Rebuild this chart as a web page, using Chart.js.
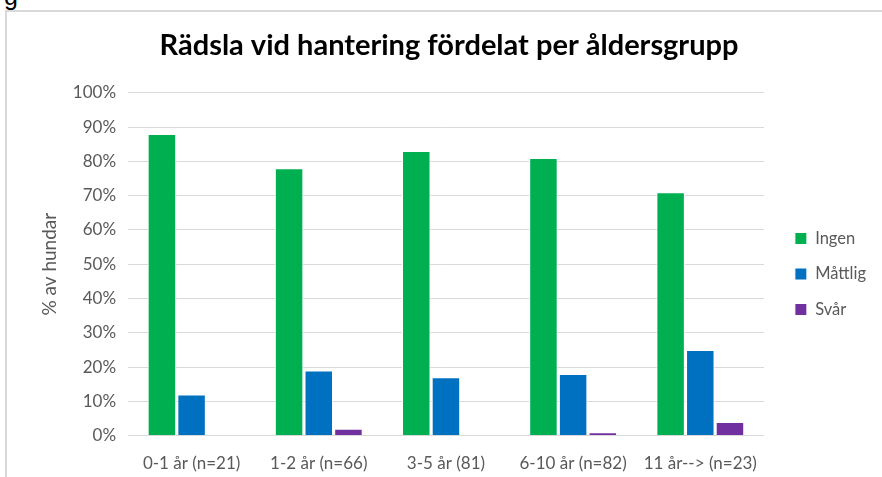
<!DOCTYPE html>
<html>
<head>
<meta charset="utf-8">
<script src="https://cdn.jsdelivr.net/npm/chart.js@4.4.0/dist/chart.umd.min.js"></script>
<style>
  body { margin: 0; background: #fff; overflow: hidden; }
  #frame {
    position: absolute; left: 5px; top: 10px; width: 890px; height: 500px;
    border-left: 2px solid #d9d9d9; border-top: 2px solid #d9d9d9;
  }
  #cut { position: absolute; left: 4px; top: -18px; font: 25px "Liberation Sans", sans-serif; color: #000; }
  #wrap { position: absolute; left: 0; top: 0; width: 875px; height: 482px; }
</style>
</head>
<body>
<div id="cut">g</div>
<div id="frame">
  <div id="wrap"><canvas id="fearChart"></canvas></div>
</div>
<script>
const categories = ["0-1 år (n=21)", "1-2 år (n=66)", "3-5 år (81)", "6-10 år (n=82)", "11 år--> (n=23)"];
const seriesNames = ["Ingen", "Måttlig", "Svår"];
const ingen = [88, 78, 83, 81, 71];
const mattlig = [12, 19, 17, 18, 25];
const svar = [0, 2, 0, 1, 4];
const seriesColors = ["#00b050", "#0070c0", "#7030a0"];
const yTicks = [0, 10, 20, 30, 40, 50, 60, 70, 80, 90, 100];

const fontFamily = "Lato, 'Liberation Sans', sans-serif";
const grey = "#595959";

// push the legend a bit away from the plot, like in the excel original
const legendShift = {
    id: "legendShift",
    afterLayout(chart) {
        const lg = chart.legend;
        if (lg) { lg.left += 12; lg.right += 12; }
    },
};

const ctx = document.getElementById("fearChart").getContext("2d");
new Chart(ctx, {
    type: "bar",
    data: {
        labels: categories,
        datasets: [ingen, mattlig, svar].map((vals, i) => ({
            label: seriesNames[i],
            data: vals,
            backgroundColor: seriesColors[i],
            borderColor: "#ffffff",
            borderWidth: 1,
            categoryPercentage: 0.7,
            barPercentage: 0.96,
        })),
    },
    options: {
        responsive: true,
        maintainAspectRatio: false,
        animation: false,
        layout: { padding: { left: 27, right: 18, top: 4, bottom: 2 } },
        scales: {
            x: {
                grid: { display: false, drawTicks: false },
                border: { display: false },
                ticks: { color: grey, font: { family: fontFamily, size: 17 }, padding: 18, maxRotation: 0 },
            },
            y: {
                min: 0,
                max: 100,
                afterBuildTicks: (axis) => { axis.ticks = yTicks.map(v => ({ value: v })); },
                grid: { color: "#d9d9d9", lineWidth: 1, drawTicks: false },
                border: { display: false },
                ticks: { color: grey, font: { family: fontFamily, size: 17 }, padding: 12, callback: (v) => v + "%" },
                title: { display: true, text: "% av hundar", color: grey, font: { family: fontFamily, size: 19 }, padding: { bottom: 0 } },
            },
        },
        plugins: {
            title: {
                display: true,
                text: "Rädsla vid hantering fördelat per åldersgrupp",
                color: "#000",
                font: { family: fontFamily, size: 29, weight: "bold" },
                padding: { top: 12, bottom: 30 },
            },
            legend: {
                position: "right",
                title: { display: true, text: " ", font: { size: 10 }, padding: { top: 28, bottom: 0 } },
                labels: {
                    color: grey,
                    font: { family: fontFamily, size: 16.5 },
                    boxWidth: 12,
                    boxHeight: 12,
                    padding: 19,
                },
            },
            tooltip: { enabled: false },
        },
    },
    plugins: [legendShift],
});
</script>
</body>
</html>
